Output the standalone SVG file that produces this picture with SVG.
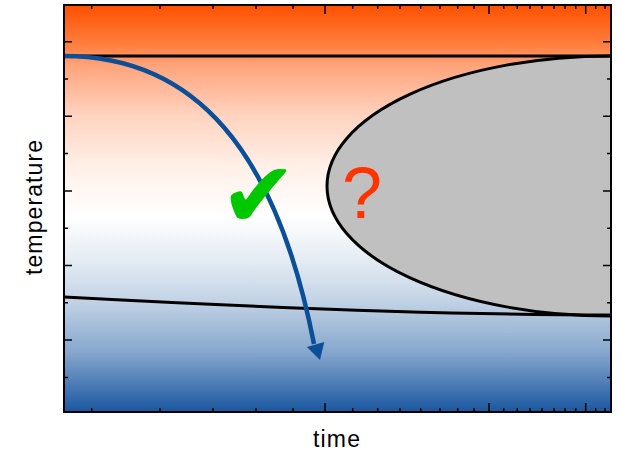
<svg xmlns="http://www.w3.org/2000/svg" width="620" height="456" viewBox="0 0 620 456">
<style>
.tick{stroke:#000;stroke-width:1.5;fill:none}
.lbl{font-family:"Liberation Sans",Arial,sans-serif;font-size:23px;fill:#000}
</style>
<defs>
<linearGradient id="bg" x1="0" y1="5" x2="0" y2="412" gradientUnits="userSpaceOnUse">
<stop offset="0" stop-color="#FF5000"/>
<stop offset="0.1" stop-color="#FF8040"/>
<stop offset="0.15" stop-color="#FFA47C"/>
<stop offset="0.27" stop-color="#FFD3BF"/>
<stop offset="0.4" stop-color="#FFF0E8"/>
<stop offset="0.52" stop-color="#FFFFFF"/>
<stop offset="0.62" stop-color="#E6EDF4"/>
<stop offset="0.72" stop-color="#C5D5E6"/>
<stop offset="0.85" stop-color="#88A8CE"/>
<stop offset="1" stop-color="#1A57A0"/>
</linearGradient>
<clipPath id="plot"><rect x="64" y="5" width="547" height="407"/></clipPath>
</defs>
<g id="plot-area" clip-path="url(#plot)">
<rect x="64" y="5" width="547" height="407" fill="url(#bg)"/>
<ellipse id="unknown-region" cx="611" cy="186" rx="284" ry="130" fill="#C0C0C0" stroke="#000" stroke-width="3"/>
<line id="upper-line" x1="64" y1="56" x2="611" y2="56" stroke="#000" stroke-width="3"/>
<path id="lower-line" d="M64,297 C250,307 450,315 611,315" fill="none" stroke="#000" stroke-width="3"/>
</g>
<g id="connectors">
<path id="cooling-path" d="M64,56 C195,56 276,150 314,344" fill="none" stroke="#0A4F98" stroke-width="4.5"/>
<polygon points="320,360 306.9,347.1 324.3,342.1" fill="#0A4F98"/>
</g>
<g id="ticks">
<path class="tick" d="M91.7,5v4M160,5v4M213,5v4M256,5v4M293,5v4M325,5v9M352.7,5v4M377.7,5v4M400,5v4M420.7,5v4M440,5v4M457.7,5v4M474,5v4M489,5v9M503.7,5v4M517.3,5v4M530,5v4M542,5v4M554,5v4M565,5v4M575.7,5v4M585.7,5v9M595.7,5v4M605,5v4"/>
<path class="tick" d="M91.7,412v-4M160,412v-4M213,412v-4M256,412v-4M293,412v-4M325,412v-9M352.7,412v-4M377.7,412v-4M400,412v-4M420.7,412v-4M440,412v-4M457.7,412v-4M474,412v-4M489,412v-9M503.7,412v-4M517.3,412v-4M530,412v-4M542,412v-4M554,412v-4M565,412v-4M575.7,412v-4M585.7,412v-9M595.7,412v-4M605,412v-4"/>
<path class="tick" d="M64,41.7h8M64,79h4M64,116.3h8M64,153.6h4M64,190.9h8M64,228.2h4M64,265.5h8M64,302.8h4M64,340.1h8M64,377.4h4"/>
<path class="tick" d="M611,41.7h-8M611,79h-4M611,116.3h-8M611,153.6h-4M611,190.9h-8M611,228.2h-4M611,265.5h-8M611,302.8h-4M611,340.1h-8M611,377.4h-4"/>
</g>
<rect id="frame" x="64" y="5" width="547" height="407" fill="none" stroke="#000" stroke-width="2"/>
<g id="marks">
<text id="check" x="220" y="227" font-family="DejaVu Sans,sans-serif" font-size="92" fill="#00C800">✔</text>
<text id="question" x="362" y="218" text-anchor="middle" font-family="Liberation Sans,Arial,sans-serif" font-size="72" fill="#FF3300">?</text>
</g>
<g id="axis-labels">
<text class="lbl" x="336.5" y="447" text-anchor="middle" textLength="47" lengthAdjust="spacing">time</text>
<text class="lbl" transform="translate(42,207.5) rotate(-90)" x="0" y="0" text-anchor="middle" textLength="135" lengthAdjust="spacing">temperature</text>
</g>
</svg>
